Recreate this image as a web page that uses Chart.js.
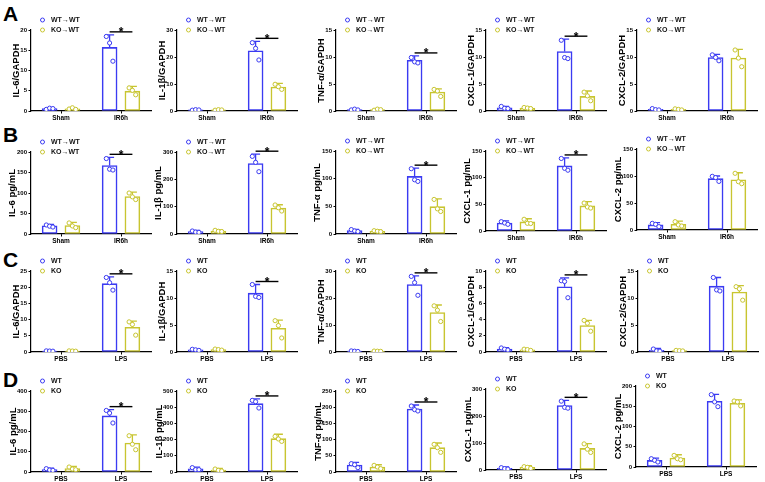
<!DOCTYPE html>
<html><head><meta charset="utf-8">
<script src="https://cdn.jsdelivr.net/npm/chart.js@4.4.1/dist/chart.umd.min.js"></script>
<style>
html,body{margin:0;padding:0;background:#fff;width:765px;height:482px;overflow:hidden;}
#fig{position:relative;width:765px;height:482px;background:#fff;}
.letter{position:absolute;font:bold 21px "Liberation Sans",Arial,sans-serif;line-height:1;color:#000;}
canvas{position:absolute;}
</style></head><body><div id="fig"></div>
<script>
// ---------------- DATA ----------------
const rowLetters = ['A', 'B', 'C', 'D'];
const rowCategories = [['Sham', 'IR6h'], ['Sham', 'IR6h'], ['PBS', 'LPS'], ['PBS', 'LPS']];
const rowSeries = [['WT→WT', 'KO→WT'], ['WT→WT', 'KO→WT'], ['WT', 'KO'], ['WT', 'KO']];
const yTitles = [
  'IL-6/GAPDH', 'IL-1β/GAPDH', 'TNF-α/GAPDH', 'CXCL-1/GAPDH', 'CXCL-2/GAPDH',
  'IL-6 pg/mL', 'IL-1β pg/mL', 'TNF-α pg/mL', 'CXCL-1 pg/mL', 'CXCL-2 pg/mL',
  'IL-6/GAPDH', 'IL-1β/GAPDH', 'TNF-α/GAPDH', 'CXCL-1/GAPDH', 'CXCL-2/GAPDH',
  'IL-6 pg/mL', 'IL-1β pg/mL', 'TNF-α pg/mL', 'CXCL-1 pg/mL', 'CXCL-2 pg/mL'
];
const yMax  = [20, 30, 15, 15, 15,  200, 300, 150, 150, 150,  25, 15, 30, 10, 15,  400, 500, 250, 300, 200];
const yStep = [5, 10, 5, 5, 5,      50, 100, 50, 50, 50,      5, 5, 10, 2, 5,      100, 100, 50, 100, 50];
const significant = [true, true, true, true, false, true, true, true, true, false,
                     true, true, true, true, false, true, true, true, true, false];

// group means [control, treated]
const wtMean = [
  [0.6, 15.7], [0.4, 22.3], [0.25, 9.4], [0.6, 11.0], [0.3, 9.9],
  [20, 167], [8.5, 258], [6, 104], [15, 122], [9.5, 95],
  [0.3, 21.1], [0.4, 10.9], [0.3, 25], [0.37, 8.05], [0.3, 12.2],
  [11.5, 277], [20, 422], [21.6, 194.4], [6.2, 239], [16.4, 162.3]
];
const wtSD = [
  [0.25, 3.1], [0.15, 3.5], [0.1, 0.8], [0.25, 2.3], [0.15, 0.6],
  [3.5, 20], [5, 34], [2.5, 15], [4, 15], [4, 5],
  [0.1, 2.1], [0.15, 1.6], [0.1, 3.2], [0.18, 1.1], [0.35, 1.6],
  [8, 31], [10, 29], [8, 12.4], [5, 19], [5.6, 17.2]
];
const koMean = [
  [0.55, 4.9], [0.4, 8.9], [0.25, 3.5], [0.55, 2.7], [0.3, 9.8],
  [20.5, 91.5], [11, 95], [5, 49.5], [17, 47], [10.5, 93],
  [0.3, 7.65], [0.45, 4.4], [0.3, 14.6], [0.28, 3.27], [0.25, 11.1],
  [16.5, 143], [12, 206], [15.4, 75], [10, 80], [22, 157.4]
];
const koSD = [
  [0.3, 1.2], [0.15, 1.3], [0.12, 0.6], [0.15, 1.0], [0.15, 1.6],
  [8, 10.5], [3.7, 12], [2.3, 14], [6, 8], [6, 13],
  [0.1, 1.85], [0.1, 1.5], [0.1, 2.8], [0.1, 0.63], [0.1, 1.2],
  [11.5, 40], [10, 27], [7, 14.5], [6, 18], [8.3, 8.2]
];
// individual points [[control x3], [treated x3]]
const wtPoints = [
  [[0.4, 0.7, 0.6], [18.4, 16.8, 12.3]], [[0.3, 0.5, 0.4], [25.3, 23.2, 18.9]],
  [[0.2, 0.35, 0.2], [9.9, 9.1, 8.9]], [[0.85, 0.5, 0.45], [13.1, 9.9, 9.7]],
  [[0.45, 0.25, 0.2], [10.4, 9.9, 9.3]],
  [[22, 19, 17], [184, 158, 156]], [[11, 7, 6], [284, 262, 228]],
  [[8, 5.5, 4.5], [118, 98, 95]], [[17.5, 15, 12.5], [136, 117.5, 114]],
  [[12.3, 10.5, 6.2], [99.4, 97, 90]],
  [[0.35, 0.3, 0.25], [23, 21.4, 19.1]], [[0.5, 0.4, 0.3], [12.5, 10.3, 10.1]],
  [[0.4, 0.3, 0.2], [28, 25.7, 21]], [[0.5, 0.35, 0.25], [8.8, 8.7, 6.7]],
  [[0.55, 0.2, 0.15], [13.8, 11.5, 11.3]],
  [[16.5, 9.9, 8.2], [304, 291, 242]], [[27, 14.4, 14.4], [442, 434, 395]],
  [[25.7, 22.6, 13.4], [203.7, 192.4, 188.3]], [[8.7, 5, 3.7], [255, 232, 229]],
  [[20.5, 16.4, 12.3], [178.7, 160.7, 149]]
];
const koPoints = [
  [[0.5, 0.8, 0.4], [5.7, 5.1, 4.0]], [[0.3, 0.5, 0.4], [9.9, 9.0, 8.0]],
  [[0.15, 0.35, 0.25], [4.0, 3.7, 2.7]], [[0.65, 0.55, 0.45], [3.5, 2.8, 1.9]],
  [[0.4, 0.3, 0.2], [11.3, 9.8, 8.2]],
  [[27, 19.6, 15.5], [100, 90.6, 84]], [[13.5, 10, 9], [106, 96, 84]],
  [[6, 5, 4.2], [62.5, 45.5, 40.7]], [[22, 14.4, 14], [52.5, 45, 43]],
  [[15.4, 9.3, 7.4], [105, 89.5, 85.8]],
  [[0.35, 0.3, 0.25], [9.3, 8.5, 5.2]], [[0.55, 0.45, 0.35], [5.8, 4.9, 2.6]],
  [[0.35, 0.3, 0.25], [17.1, 15.5, 11.3]], [[0.35, 0.3, 0.2], [3.9, 3.55, 2.57]],
  [[0.3, 0.25, 0.2], [12.1, 11.7, 9.6]],
  [[24.7, 14.8, 11.5], [179, 137, 110]], [[18.5, 10.3, 6.2], [220, 204, 189]],
  [[20.6, 15.4, 10.3], [85.4, 75.1, 60.7]], [[12.4, 10, 6.2], [96.7, 77, 65]],
  [[28.7, 20.5, 18], [163, 160.7, 150.8]]
];

// ---------------- LAYOUT / STYLE ----------------
const FONT = '"Liberation Sans", Arial, sans-serif';
const COLORS = ['#3b3bf2', '#c8c530'];
const axisX = [[31, 177, 336, 486, 637], [31, 177, 336, 486, 637], [31, 177, 336, 486, 638], [31, 177, 336, 486, 636]];
const plotY = [
  [[30, 111], [30, 111], [30, 111], [30, 111], [30, 111]],
  [[152, 234], [152, 234], [151, 234], [151, 231], [149, 230]],
  [[271, 352], [271, 352], [271, 352], [271, 352], [271, 352]],
  [[391, 472], [391, 472], [391, 472], [389, 470], [386, 467]]
];
const titleOff = [14.5, 18.5, 14.5, 18];
const letterBase = [20.7, 142, 266.7, 386.7];
const PW = 120, LW = 44, TOPPAD = 32, XH = 14, RPAD = 6;
const GOFF = 0.19;          // half distance between WT and KO bar centres (category units)
const BAR_W = 15;
const JIT = [-0.055, 0.0, 0.055];
const TITLE_SIZE = 9.5;

const fig = document.getElementById('fig');
rowLetters.forEach((L, r) => {
  const d = document.createElement('div');
  d.className = 'letter'; d.textContent = L;
  d.style.left = '3px'; d.style.top = (letterBase[r] - 17.8) + 'px';
  fig.appendChild(d);
});

const errorBars = {
  id: 'errorBars',
  afterDatasetDraw(chart, args) {
    const meta = args.meta;
    if (meta.type !== 'bar') return;
    const ds = chart.data.datasets[args.index];
    const y = chart.scales.y, ctx = chart.ctx;
    ctx.save();
    ctx.strokeStyle = ds.borderColor; ctx.lineWidth = 1.3;
    meta.data.forEach((bar, j) => {
      const v = ds.data[j].y;
      const top = y.getPixelForValue(v + ds.sd[j]);
      const base = y.getPixelForValue(v);
      ctx.beginPath();
      ctx.moveTo(bar.x, base); ctx.lineTo(bar.x, top);
      ctx.moveTo(bar.x - 4.5, top); ctx.lineTo(bar.x + 4.5, top);
      ctx.stroke();
    });
    ctx.restore();
  }
};

const decorations = {
  id: 'decorations',
  afterDraw(chart) {
    const o = chart.options.plugins.decorations;
    const ctx = chart.ctx, ca = chart.chartArea, y = chart.scales.y;
    ctx.save();
    o.series.forEach((name, k) => {
      const cy = ca.top - 10 + k * 10;
      ctx.beginPath();
      ctx.arc(ca.left + 11.5, cy, 2, 0, Math.PI * 2);
      ctx.strokeStyle = COLORS[k]; ctx.lineWidth = 1; ctx.stroke();
      ctx.fillStyle = '#111';
      ctx.font = 'bold 7px ' + FONT;
      ctx.textBaseline = 'middle'; ctx.textAlign = 'left';
      ctx.fillText(name, ca.left + 20, cy + 0.5);
    });
    if (o.sig) {
      const m0 = chart.getDatasetMeta(2), m1 = chart.getDatasetMeta(3);
      const d0 = chart.data.datasets[2], d1 = chart.data.datasets[3];
      const x0 = m0.data[1].x, x1 = m1.data[1].x;
      const topY = Math.min(
        y.getPixelForValue(d0.data[1].y + d0.sd[1]),
        y.getPixelForValue(d1.data[1].y + d1.sd[1])
      ) - 3;
      ctx.beginPath(); ctx.moveTo(x0, topY); ctx.lineTo(x1, topY);
      ctx.strokeStyle = '#000'; ctx.lineWidth = 1.4; ctx.stroke();
      ctx.fillStyle = '#000'; ctx.font = 'bold 12px ' + FONT;
      ctx.textAlign = 'center'; ctx.textBaseline = 'alphabetic';
      ctx.fillText('*', (x0 + x1) / 2, topY + 4.5);
    }
    ctx.restore();
  }
};

function barData(means, dir) {
  return means.map((v, j) => ({x: j + dir * GOFF, y: v}));
}
function pointData(groups, dir) {
  const out = [];
  groups.forEach((vals, j) => {
    vals.forEach((v, k) => out.push({x: j + dir * GOFF + JIT[k], y: v}));
  });
  return out;
}

for (let i = 0; i < 20; i++) {
  const r = Math.floor(i / 5), c = i % 5;
  const ax = axisX[r][c], pt = plotY[r][c][0], pb = plotY[r][c][1];
  const W = LW + PW + RPAD, H = (pb - pt) + TOPPAD + XH;
  const cv = document.createElement('canvas');
  cv.width = W; cv.height = H;
  cv.style.width = W + 'px'; cv.style.height = H + 'px';
  cv.style.left = (ax - LW) + 'px'; cv.style.top = (pt - TOPPAD) + 'px';
  fig.appendChild(cv);
  const cats = rowCategories[r];
  const sc = rowSeries[r];
  const barStyle = {backgroundColor: '#fff', borderWidth: 1.6, borderSkipped: false,
                    grouped: false, barThickness: BAR_W, order: 1};
  const ptStyle = {backgroundColor: '#fff', pointRadius: 2.1, pointBorderWidth: 1, order: 0, showLine: false};
  new Chart(cv.getContext('2d'), {
    type: 'bar',
    data: {
      datasets: [
        Object.assign({type: 'scatter', data: pointData(wtPoints[i], -1), borderColor: COLORS[0]}, ptStyle),
        Object.assign({type: 'scatter', data: pointData(koPoints[i], 1), borderColor: COLORS[1]}, ptStyle),
        Object.assign({type: 'bar', label: sc[0], data: barData(wtMean[i], -1), sd: wtSD[i], borderColor: COLORS[0]}, barStyle),
        Object.assign({type: 'bar', label: sc[1], data: barData(koMean[i], 1), sd: koSD[i], borderColor: COLORS[1]}, barStyle)
      ]
    },
    options: {
      responsive: false, animation: false, events: [],
      layout: {padding: {top: TOPPAD, left: 0, right: RPAD, bottom: 0}},
      plugins: {legend: {display: false}, tooltip: {enabled: false},
                decorations: {series: sc, sig: significant[i]}},
      scales: {
        x: {
          type: 'linear', min: -0.5, max: 1.5, offset: false, position: 'bottom',
          afterBuildTicks: s => { s.ticks = cats.map((_, j) => ({value: j})); },
          grid: {display: true, drawOnChartArea: false, drawTicks: true, tickLength: 2.5, offset: false, color: '#000', lineWidth: 1},
          border: {display: true, color: '#000', width: 1.2},
          ticks: {font: {family: FONT, size: 6.5, weight: 'bold'}, color: '#000', padding: 1, maxRotation: 0, autoSkip: false,
                  callback: v => cats[v]},
          afterFit: s => { s.height = XH; }
        },
        y: {
          type: 'linear', min: 0, max: yMax[i],
          ticks: {stepSize: yStep[i], font: {family: FONT, size: 6, weight: 'bold'}, color: '#000', padding: 1.5},
          grid: {display: true, drawOnChartArea: false, drawTicks: true, tickLength: 2.5, color: '#000', lineWidth: 1},
          border: {display: true, color: '#000', width: 1.2},
          title: {display: true, text: yTitles[i], color: '#000',
                  font: {family: FONT, size: TITLE_SIZE, weight: 'bold', lineHeight: 1},
                  padding: {top: LW - titleOff[r] - TITLE_SIZE / 2, bottom: 0}},
          afterFit: s => { s.width = LW; }
        }
      }
    },
    plugins: [errorBars, decorations]
  });
}
</script></body></html>
